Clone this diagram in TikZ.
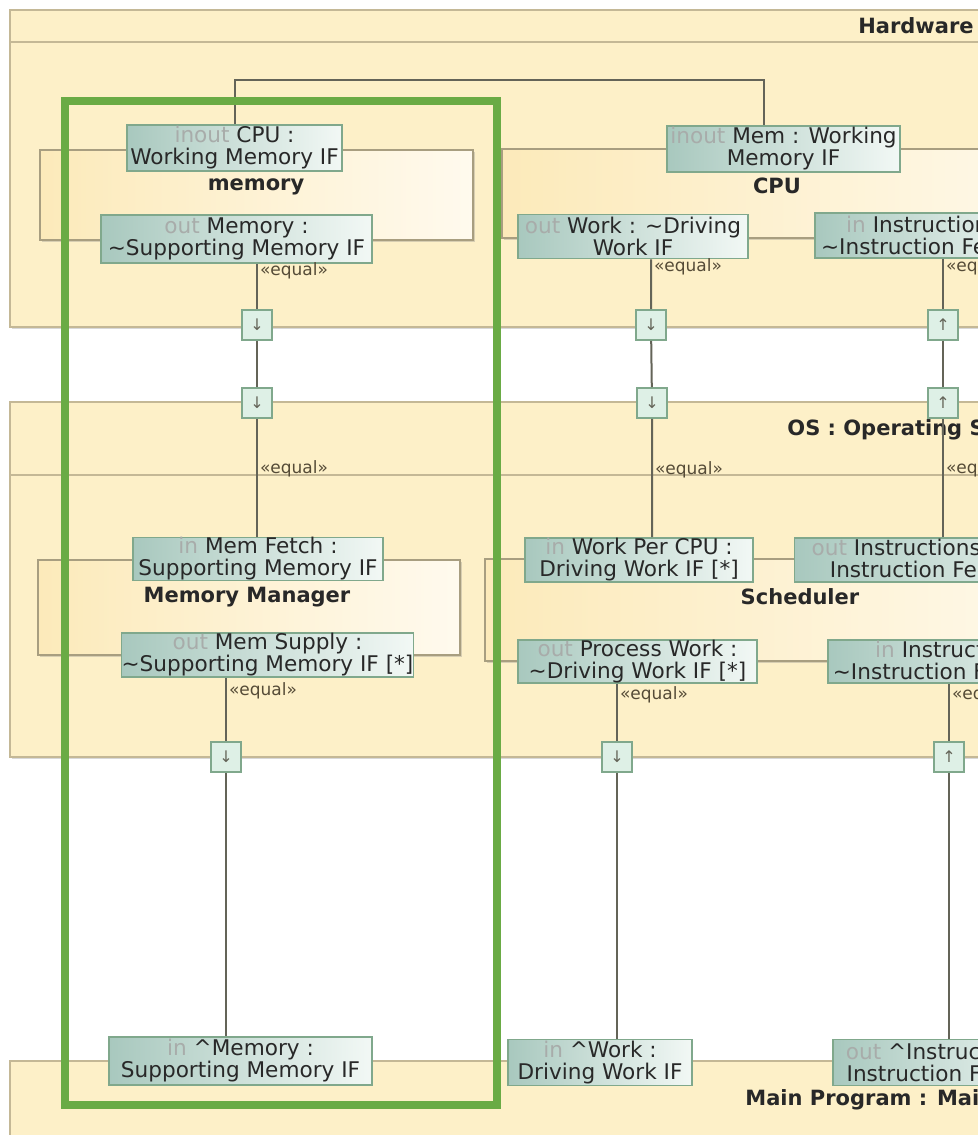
\documentclass[tikz,border=0pt]{standalone}
\usepackage{fontspec}
\setmainfont{DejaVu Sans}
\usetikzlibrary{shadows}

\definecolor{blockfill}{RGB}{253,240,200}
\definecolor{blockline}{RGB}{196,184,150}
\definecolor{partline}{RGB}{168,158,128}
\definecolor{partleft}{RGB}{252,234,186}
\definecolor{partright}{RGB}{255,250,238}
\definecolor{portleft}{RGB}{168,200,190}
\definecolor{portright}{RGB}{242,248,245}
\definecolor{portline}{RGB}{128,168,140}
\definecolor{ifacefill}{RGB}{222,240,230}
\definecolor{wirecol}{RGB}{100,100,88}
\definecolor{kwgray}{RGB}{168,172,170}
\definecolor{txt}{RGB}{40,40,40}
\definecolor{eqcol}{RGB}{85,75,55}
\definecolor{hilite}{RGB}{106,171,69}

\newcommand{\kw}[1]{\textcolor{kwgray}{#1}}

\begin{document}
\begin{tikzpicture}[
    x=0.5pt, y=-0.5pt,
    blockbox/.style={draw=blockline, line width=1pt, fill=blockfill,
        drop shadow={shadow xshift=1pt, shadow yshift=-1.2pt, opacity=0.3}},
    partbox/.style={draw=partline, line width=1pt, left color=partleft, right color=partright,
        drop shadow={shadow xshift=1pt, shadow yshift=-1pt, opacity=0.3}},
    port/.style={draw=portline, line width=0.8pt, left color=portleft, right color=portright,
        text=txt, align=center, inner sep=0pt, font=\fontsize{10.8}{11}\selectfont},
    iface/.style={draw=portline, line width=0.8pt, fill=ifacefill, minimum size=15pt,
        inner sep=0pt, font=\fontsize{8}{8}\selectfont, text=wirecol},
    wire/.style={draw=wirecol, line width=1pt},
    eq/.style={anchor=west, font=\fontsize{8.5}{9}\selectfont, text=eqcol, inner sep=1pt},
    parttitle/.style={font=\fontsize{10.5}{12}\selectfont\bfseries, text=txt, inner sep=0pt}
]

\useasboundingbox (0,0) rectangle (978,1135);
\fill[white] (0,0) rectangle (978,1135);
\clip (0,0) rectangle (978,1135);

\path[blockbox] (10,10) rectangle (1100,327);
\draw[blockline, line width=1pt] (10,42) -- (1100,42);
\path[blockbox] (10,402) rectangle (1100,757);
\draw[blockline, line width=1pt] (10,475) -- (1100,475);
\path[blockbox] (10,1061) rectangle (1100,1200);

\path[partbox] (40,150) rectangle (473,240);
\path[partbox] (502,149) rectangle (1100,238);
\path[partbox] (38,560) rectangle (460,655);
\path[partbox] (485,559) rectangle (1100,661);

\node[parttitle, anchor=east] (hwttl) at (974,26) {Hardware};
\node[parttitle, anchor=west] (osttl) at (787,430) {OS : Operating System};
\node[parttitle, anchor=west] (mainttl) at (745,1100) {Main Program : Main};
\node[parttitle] (memttl) at (256,187) {memory};
\node[parttitle] (cputtl) at (777,186) {CPU};
\node[parttitle] (mmttl) at (247,597) {Memory Manager};
\node[parttitle] (schttl) at (800,597) {Scheduler};

\node[port, minimum width=107.5pt, minimum height=23pt] (cpu) at (234.5,148) {\kw{inout} CPU :\\Working Memory IF};
\node[port, minimum width=135.5pt, minimum height=24pt] (memout) at (236.5,239) {\kw{out} Memory :\\\textasciitilde Supporting Memory IF};
\node[port, minimum width=116.5pt, minimum height=23pt] (mem) at (783.5,149) {\kw{inout} Mem : Working\\Memory IF};
\node[port, minimum width=115pt, minimum height=22pt] (work) at (633,236.5) {\kw{out} Work : \textasciitilde Driving\\Work IF};
\node[port, minimum width=115pt, minimum height=22.5pt] (instr) at (930,235.5) {\kw{in} Instructions :\\\textasciitilde Instruction Feed IF};

\node[port, minimum width=125pt, minimum height=21pt] (memfetch) at (258,559) {\kw{in} Mem Fetch :\\Supporting Memory IF};
\node[port, minimum width=145.5pt, minimum height=22pt] (memsupply) at (267.5,655) {\kw{out} Mem Supply :\\\textasciitilde Supporting Memory IF [*]};
\node[port, minimum width=114pt, minimum height=22pt] (workcpu) at (639,560) {\kw{in} Work Per CPU :\\Driving Work IF [*]};
\node[port, minimum width=152.5pt, minimum height=22pt] (instrout) at (947,560) {\kw{out} Instructions for CPU :\\Instruction Feed IF [*]};
\node[port, minimum width=119.5pt, minimum height=21.5pt] (procwork) at (637.5,661.5) {\kw{out} Process Work :\\\textasciitilde Driving Work IF [*]};
\node[port, minimum width=131pt, minimum height=21.5pt] (instrin) at (959,661.5) {\kw{in} Instructions :\\\textasciitilde Instruction Feed IF [*]};

\node[port, minimum width=131.5pt, minimum height=24pt] (memmain) at (240.5,1061) {\kw{in} \textasciicircum Memory :\\Supporting Memory IF};
\node[port, minimum width=92pt, minimum height=23pt] (workmain) at (600,1062.5) {\kw{in} \textasciicircum Work :\\Driving Work IF};
\node[port, minimum width=113.5pt, minimum height=23pt] (instrmain) at (946.5,1062.5) {\kw{out} \textasciicircum Instructions :\\Instruction Feed IF};

\node[iface] (ifa) at (257,325) {↓};
\node[iface] (ifb) at (257,403) {↓};
\node[iface] (ifc) at (226,757) {↓};
\node[iface] (ifd) at (651,325) {↓};
\node[iface] (ife) at (652,403) {↓};
\node[iface] (iff) at (617,757) {↓};
\node[iface] (ifg) at (943,325) {↑};
\node[iface] (ifh) at (943,403) {↑};
\node[iface] (ifi) at (949,757) {↑};

\coordinate (loop) at (764,80);
\draw[wire] (cpu.north) |- (loop) -- (loop |- mem.north);

\draw[wire] (memout.south -| ifa) -- node[eq, pos=0.15] {«equal»} (ifa) -- (ifb)
    -- node[eq, pos=0.42] {«equal»} (ifb |- memfetch.north);
\draw[wire] (work.south -| ifd) -- node[eq, pos=0.15] {«equal»} (ifd) -- (ife)
    -- node[eq, pos=0.43] {«equal»} (ife |- workcpu.north);
\draw[wire] (instr.south -| ifg) -- node[eq, pos=0.15] {«equal»} (ifg) -- (ifh)
    -- node[eq, pos=0.42] {«equal»} (ifh |- instrout.north);
\draw[wire] (memsupply.south -| ifc) -- node[eq, pos=0.21] {«equal»} (ifc) -- (ifc |- memmain.north);
\draw[wire] (procwork.south -| iff) -- node[eq, pos=0.19] {«equal»} (iff) -- (iff |- workmain.north);
\draw[wire] (instrin.south -| ifi) -- node[eq, pos=0.19] {«equal»} (ifi) -- (ifi |- instrmain.north);

\draw[hilite, line width=4pt] (65,101) rectangle (497,1105);

\end{tikzpicture}
\end{document}
